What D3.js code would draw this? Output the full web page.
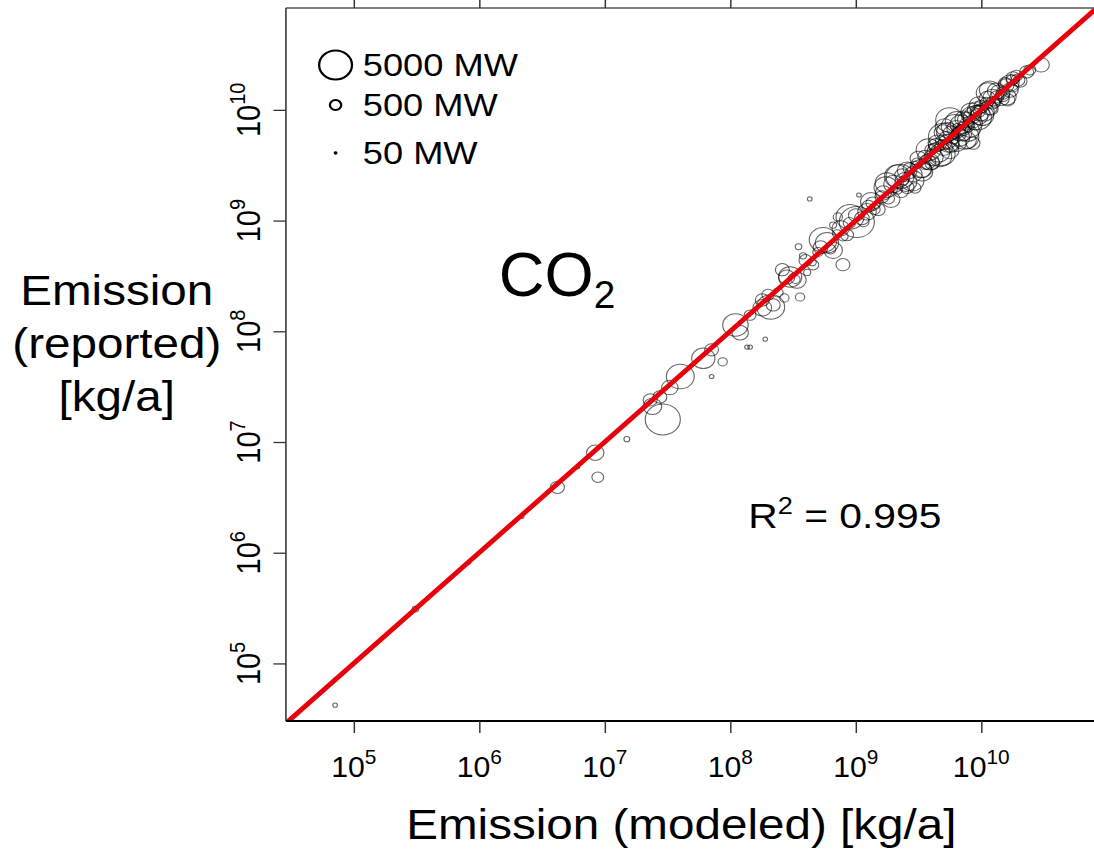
<!DOCTYPE html>
<html>
<head>
<meta charset="utf-8">
<script src="https://cdn.jsdelivr.net/npm/d3@7"></script>
<style>
  body { margin: 0; background: #fff; }
  svg { display: block; }
  text { font-family: Arial, "Liberation Sans", sans-serif; fill: #000; }
</style>
</head>
<body>
<div id="chart"></div>
<script>
// Modeled vs reported CO2 emission per plant, circle area ~ capacity

const modeled = [
  7.1e4, 3.1e5, 8.3e5, 2.2e6, 4.2e6, 6.1e6, 8.4e6, 8.8e6, 1.5e7, 2.9e7,
  2.4e7, 2.3e7, 2.75e7, 3.3e7, 4.0e7, 6.1e7, 7.1e7, 8.7e7, 7.1e7, 1.1e8,
  1.2e8, 1.36e8, 1.44e8, 1.9e8, 1.44e8, 1.8e8, 2.1e8, 1.8e8, 2.2e8, 2.7e8,
  3.6e8, 3.0e8, 3.4e8, 2.6e8, 4.1e8, 3.8e8, 3.5e8, 4.3e8, 7.9e8, 5.9e8,
  5.5e8, 6.6e8, 6.6e8, 7.2e8, 1.02e9, 9.0e8, 1.06e9, 1.23e9, 1.37e9, 1.62e9,
  1.77e9, 2.25e9, 2.97e9, 2.56e9, 3.4e9, 3.9e9, 4.7e9, 5.6e9, 6.4e9, 7.7e9,
  5.0e9, 5.1e9, 5.6e9, 6.4e9, 7.1e9, 8.1e9, 7.4e9, 8.6e9, 9.8e9, 9.2e9,
  1.17e10, 1.33e10, 1.49e10, 1.69e10, 1.63e10, 1.79e10, 1.96e10, 2.3e10, 2.44e10, 3.0e10,
  1.13e10, 1.24e10, 1.6e10, 1.76e10,
  1.66e9, 1.82e9, 2.0e9, 2.14e9, 2.34e9, 2.51e9, 2.69e9, 2.88e9, 3.09e9, 3.31e9,
  3.55e9, 3.72e9, 3.98e9, 4.17e9, 4.37e9, 4.57e9, 4.79e9, 5.01e9, 5.25e9, 5.5e9,
  5.75e9, 6.03e9, 6.31e9, 6.61e9, 6.92e9, 7.24e9, 7.59e9, 7.94e9, 8.32e9, 8.71e9,
  9.12e9, 9.55e9, 1.0e10, 1.05e10, 1.1e10, 1.15e10, 1.23e10, 1.29e10, 1.38e10, 1.48e10,
  1.58e10, 1.78e10, 1.26e9, 1.12e9, 1.41e9, 8.9e8, 7.9e8, 7.1e8, 5.0e8, 4.5e8,
  2.0e8, 2.4e8, 2.82e8, 3.31e8, 3.98e8, 4.57e8, 5.25e8, 6.31e8, 7.59e8, 8.51e8,
  1.0e9, 1.15e9, 1.32e9, 1.51e9, 1.74e9, 1.91e9, 2.14e9, 2.29e9, 2.57e9, 2.82e9,
  3.16e9, 3.39e9, 3.8e9, 4.07e9, 4.47e9, 4.9e9, 5.37e9, 5.75e9, 6.17e9, 6.76e9,
  7.24e9, 7.76e9, 8.32e9, 8.91e9, 9.55e9, 1.02e10, 1.12e10, 1.2e10, 1.32e10, 1.45e10,
  1.55e10, 1.7e10, 1.91e10, 2.04e10, 3.55e9, 4.17e9, 5.25e9, 6.46e9, 7.94e9, 2.95e9,
  2.4e9, 9.33e9, 5.01e9
];
const reported = [
  4.2e4, 3.1e5, 8.1e5, 2.1e6, 3.9e6, 5.9e6, 8.0e6, 4.8e6, 1.06e7, 1.6e7,
  2.1e7, 2.4e7, 2.55e7, 3.1e7, 3.9e7, 5.7e7, 6.8e7, 5.3e7, 3.9e7, 1.14e8,
  9.7e7, 7.2e7, 7.2e7, 8.5e7, 1.4e8, 1.63e8, 1.66e8, 1.92e8, 1.73e8, 2.0e8,
  2.04e8, 3.1e8, 2.9e8, 3.6e8, 3.4e8, 4.8e8, 5.8e8, 1.57e9, 4.0e8, 6.3e8,
  6.7e8, 5.4e8, 9.1e8, 1.08e9, 9.7e8, 1.08e9, 1.7e9, 1.2e9, 1.44e9, 1.64e9,
  2.19e9, 2.5e9, 1.97e9, 2.0e9, 2.9e9, 3.4e9, 3.8e9, 4.3e9, 5.0e9, 5.3e9,
  6.2e9, 7.0e9, 8.1e9, 7.8e9, 6.2e9, 7.0e9, 5.7e9, 5.0e9, 9.4e9, 1.0e10,
  1.51e10, 1.31e10, 1.42e10, 1.75e10, 1.23e10, 1.94e10, 1.86e10, 2.2e10, 2.3e10, 2.55e10,
  1.42e10, 1.16e10, 1.31e10, 1.86e10,
  1.78e9, 1.58e9, 2.14e9, 1.9e9, 2.57e9, 2.24e9, 2.95e9, 2.63e9, 3.31e9, 2.95e9,
  3.8e9, 3.39e9, 4.37e9, 3.72e9, 4.79e9, 4.17e9, 5.25e9, 4.57e9, 5.62e9, 5.01e9,
  6.17e9, 5.5e9, 6.76e9, 6.03e9, 7.41e9, 6.61e9, 8.13e9, 7.08e9, 8.91e9, 7.94e9,
  9.77e9, 8.71e9, 1.07e10, 9.55e9, 1.15e10, 1.05e10, 1.29e10, 1.17e10, 1.45e10, 1.35e10,
  1.66e10, 1.62e10, 1.35e9, 1.05e9, 1.26e9, 9.5e8, 7.2e8, 7.6e8, 5.2e8, 4.2e8,
  2.14e8, 2.24e8, 3.09e8, 2.95e8, 4.37e8, 3.98e8, 5.75e8, 5.5e8, 8.51e8, 7.41e8,
  1.12e9, 9.77e8, 1.48e9, 1.26e9, 2.0e9, 1.55e9, 2.51e9, 1.86e9, 2.82e9, 2.29e9,
  3.63e9, 2.75e9, 4.37e9, 3.31e9, 5.01e9, 3.98e9, 6.31e9, 4.79e9, 7.08e9, 5.62e9,
  8.32e9, 6.46e9, 9.55e9, 7.59e9, 1.1e10, 8.91e9, 1.26e10, 1.02e10, 1.48e10, 1.26e10,
  1.74e10, 1.51e10, 2.04e10, 1.82e10, 3.16e9, 4.57e9, 4.9e9, 6.92e9, 7.41e9, 3.16e9,
  2.29e9, 8.51e9, 5.75e9
];
const capacityMW = [
  100, 200, 50, 60, 900, 60, 1400, 640, 160, 5700,
  1600, 900, 900, 1250, 3600, 2500, 900, 400, 100, 3000,
  1250, 100, 100, 100, 640, 1600, 3600, 900, 900, 400,
  400, 2500, 1600, 900, 230, 230, 200, 100, 900, 2500,
  3600, 1600, 230, 400, 5700, 3600, 100, 1600, 900, 900,
  2500, 3600, 640, 900, 1600, 1600, 2500, 1600, 1600, 1600,
  1600, 1600, 3600, 2500, 1600, 2500, 3600, 900, 1600, 1600,
  2000, 900, 900, 1600, 900, 900, 900, 900, 640, 1250,
  2500, 900, 1600, 640,
  1200, 700, 1800, 500, 1000, 2200, 800, 1400, 600, 2000,
  900, 1300, 700, 1700, 1100, 2400, 600, 1500, 900, 2000,
  1200, 700, 1600, 1000, 2200, 800, 1400, 600, 1800, 1100,
  700, 1500, 1000, 2000, 800, 1300, 1700, 600, 1200, 900,
  1100, 700, 800, 1000, 600, 700, 500, 400, 500, 300,
  700, 500, 1200, 400, 800, 600, 1000, 500, 1400, 800,
  1000, 600, 2000, 900, 2600, 1500, 3000, 1100, 1800, 2500,
  1300, 2000, 2800, 1000, 1600, 3000, 2200, 1200, 3400, 1800,
  1400, 2600, 2000, 1100, 1700, 2400, 1300, 900, 1500, 1100,
  800, 1200, 700, 900, 500, 400, 500, 400, 600, 400,
  500, 3600, 4200
];

const legendMW = [5000, 500, 50];
const legendLabels = ["5000 MW", "500 MW", "50 MW"];
const tickExponents = [5, 6, 7, 8, 9, 10];
const rSquared = "0.995";

// the picture is stretched sideways, so draw in a narrower box and stretch it
const W = 965, H = 850;
const plot = {left: 252.2, right: 967.4, top: 8, bottom: 721};

const svg = d3.select("#chart")
    .append("svg")
    .attr("width", 1094)
    .attr("height", 850)
    .attr("viewBox", "0 0 " + W + " " + H)
    .attr("preserveAspectRatio", "none");

const x = d3.scaleLog()
    .domain([2.88e4, 8.32e10])
    .range([plot.left, plot.right]);
const y = d3.scaleLog()
    .domain([3.02e4, 8.32e10])
    .range([plot.bottom, plot.top]);
const r = d3.scaleSqrt()
    .domain([0, 5000])
    .range([0, 14.5]);

const tickValues = tickExponents.map(e => Math.pow(10, e));

svg.append("clipPath").attr("id", "plotClip")
    .append("rect")
    .attr("x", plot.left).attr("y", plot.top)
    .attr("width", plot.right - plot.left)
    .attr("height", plot.bottom - plot.top);

// points
const points = modeled.map((m, i) => ({m: m, rep: reported[i], mw: capacityMW[i]}))
    .sort((a, b) => b.mw - a.mw);

svg.append("g")
    .attr("clip-path", "url(#plotClip)")
    .selectAll("circle")
    .data(points)
    .enter().append("circle")
    .attr("cx", d => x(d.m))
    .attr("cy", d => y(d.rep))
    .attr("r", d => r(d.mw))
    .style("fill", "none")
    .style("stroke", "rgba(0,0,0,0.6)")
    .style("stroke-width", 1);

// 1:1 line
const lineGenerator = d3.line().x(d => x(d)).y(d => y(d));
svg.append("path")
    .attr("clip-path", "url(#plotClip)")
    .attr("d", lineGenerator([2.0e4, 1.2e11]))
    .style("fill", "none")
    .style("stroke", "#e8000b")
    .style("stroke-width", 4.6);

// frame
svg.append("line")
    .attr("x1", plot.left).attr("x2", plot.right + 20)
    .attr("y1", plot.top).attr("y2", plot.top)
    .style("stroke", "#555").style("stroke-width", 1.5);
svg.append("line")
    .attr("x1", plot.left).attr("x2", plot.left)
    .attr("y1", plot.top).attr("y2", plot.bottom)
    .style("stroke", "#444").style("stroke-width", 1.5);

// axes
const axisBottom = svg.append("g")
    .attr("transform", "translate(0," + plot.bottom + ")")
    .call(d3.axisBottom(x).tickValues(tickValues).tickSize(12).tickSizeOuter(0).tickFormat(""));
const axisTop = svg.append("g")
    .attr("transform", "translate(0," + plot.top + ")")
    .call(d3.axisTop(x).tickValues(tickValues).tickSize(12).tickSizeOuter(0).tickFormat(""));
const axisLeft = svg.append("g")
    .attr("transform", "translate(" + plot.left + ",0)")
    .call(d3.axisLeft(y).tickValues(tickValues).tickSize(11).tickSizeOuter(0).tickFormat(""));

axisBottom.select(".domain").attr("d", "M" + plot.left + ",0H" + (plot.right + 20))
    .style("stroke", "#000").style("stroke-width", 2);
axisTop.select(".domain").remove();
axisLeft.select(".domain").remove();
svg.selectAll(".tick line").style("stroke", "#333").style("stroke-width", 1.3);

// tick labels 10^n
tickExponents.forEach(e => {
    let t = svg.append("text")
        .attr("transform", "translate(" + x(Math.pow(10, e)) + ",777) scale(0.92,1)")
        .attr("text-anchor", "middle")
        .style("font-size", "29px");
    t.append("tspan").text("10");
    t.append("tspan").attr("dy", -13).style("font-size", "20px").text(e);

    let ty = svg.append("text")
        .attr("transform", "translate(229," + y(Math.pow(10, e)) + ") rotate(-90)")
        .attr("text-anchor", "middle")
        .style("font-size", "29px");
    ty.append("tspan").text("10");
    ty.append("tspan").attr("dy", -13).style("font-size", "20px").text(e);
});

// axis titles
svg.append("text")
    .attr("x", 601)
    .attr("y", 839)
    .attr("text-anchor", "middle")
    .style("font-size", "42px")
    .text("Emission (modeled) [kg/a]");

const yTitle = ["Emission", "(reported)", "[kg/a]"];
yTitle.forEach((s, i) => {
    svg.append("text")
        .attr("x", 103)
        .attr("y", 305 + i * 53)
        .attr("text-anchor", "middle")
        .style("font-size", "42px")
        .text(s);
});

// CO2 label
let co2 = svg.append("text")
    .attr("transform", "translate(440,296) scale(0.9,1)")
    .style("font-size", "62px");
co2.append("tspan").text("CO");
co2.append("tspan").attr("dy", 12).style("font-size", "38px").text("2");

// R^2
let rsq = svg.append("text")
    .attr("x", 660)
    .attr("y", 528)
    .style("font-size", "36px");
rsq.append("tspan").text("R");
rsq.append("tspan").attr("dy", -14).style("font-size", "24px").text("2");
rsq.append("tspan").attr("dy", 14).text(" = " + rSquared);

// legend
const legendY = [65, 105, 153];
legendMW.forEach((mw, i) => {
    svg.append("circle")
        .attr("cx", 296)
        .attr("cy", legendY[i])
        .attr("r", i === 1 ? 5 : r(mw))
        .style("fill", i === 2 ? "#000" : "none")
        .style("stroke", "#000")
        .style("stroke-width", i === 2 ? 0.5 : 2);
    svg.append("text")
        .attr("x", 320)
        .attr("y", legendY[i] + 11.5)
        .style("font-size", "32px")
        .text(legendLabels[i]);
});
</script>
</body>
</html>
